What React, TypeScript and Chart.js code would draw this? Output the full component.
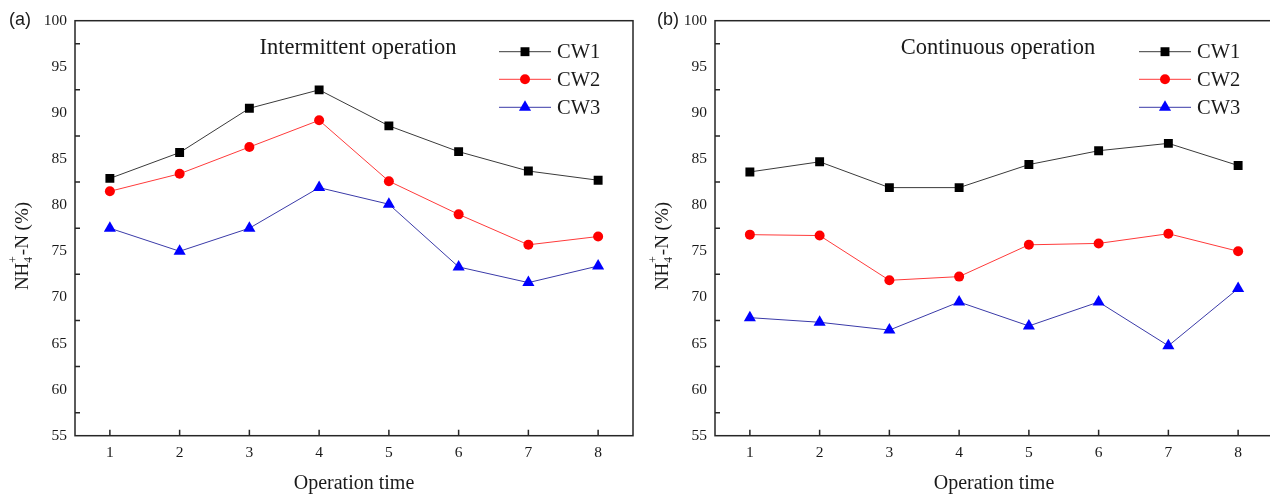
import React, { useEffect, useRef } from 'react';
import { Chart, registerables } from 'chart.js';

Chart.register(...registerables);

// ---------------- data ----------------
const categories = ['1', '2', '3', '4', '5', '6', '7', '8'];
const seriesNames = ['CW1', 'CW2', 'CW3'];

const intermittentCW1 = [82.9, 85.7, 90.5, 92.5, 88.6, 85.8, 83.7, 82.7];
const intermittentCW2 = [81.5, 83.4, 86.3, 89.2, 82.6, 79.0, 75.7, 76.6];
const intermittentCW3 = [77.5, 75.0, 77.5, 81.9, 80.1, 73.3, 71.6, 73.4];

const continuousCW1 = [83.6, 84.7, 81.9, 81.9, 84.4, 85.9, 86.7, 84.3];
const continuousCW2 = [76.8, 76.7, 71.85, 72.25, 75.7, 75.85, 76.9, 75.0];
const continuousCW3 = [67.8, 67.3, 66.45, 69.5, 66.9, 69.5, 64.75, 70.95];

const yMin = 55;
const yMax = 100;
const yStep = 5;
const yMinorTicks = [57.5, 62.5, 67.5, 72.5, 77.5, 82.5, 87.5, 92.5, 97.5];

const xAxisTitle = 'Operation time';

// ---------------- styles ----------------
const SERIF = '"Liberation Serif", "Times New Roman", serif';
const SANS = '"Liberation Sans", Arial, sans-serif';
const markerColors = ['#000000', '#ff0000', '#0000ff'];
const lineColors = ['#3a3a3a', '#ff3a3a', '#3a3aa8'];
const pointStyles = ['rect', 'circle', 'triangle'] as const;
const pointRadii = [6.3, 5, 7];

function drawMarker(ctx: CanvasRenderingContext2D, style: string, x: number, y: number, r: number, color: string) {
  ctx.save();
  ctx.fillStyle = color;
  ctx.beginPath();
  if (style === 'rect') {
    const s = r / Math.SQRT2;
    ctx.rect(x - s, y - s, 2 * s, 2 * s);
  } else if (style === 'circle') {
    ctx.arc(x, y, r, 0, Math.PI * 2);
  } else {
    ctx.moveTo(x, y - r);
    ctx.lineTo(x + r * Math.sin(Math.PI * 2 / 3), y - r * Math.cos(Math.PI * 2 / 3));
    ctx.lineTo(x + r * Math.sin(Math.PI * 4 / 3), y - r * Math.cos(Math.PI * 4 / 3));
    ctx.closePath();
  }
  ctx.fill();
  ctx.restore();
}

const overlayPlugin = {
  id: 'overlay',
  beforeDatasetsDraw(chart: any) {
    const { ctx, chartArea: ca, scales } = chart;
    ctx.save();
    ctx.strokeStyle = '#262626';
    ctx.lineWidth = 1.5;
    ctx.strokeRect(ca.left, ca.top, ca.right - ca.left, ca.bottom - ca.top);
    ctx.beginPath();
    for (const v of yMinorTicks) {
      const y = scales.y.getPixelForValue(v);
      ctx.moveTo(ca.left, y);
      ctx.lineTo(ca.left + 5, y);
    }
    for (let i = 0; i < categories.length; i++) {
      const x = scales.x.getPixelForValue(i);
      ctx.moveTo(x, ca.bottom);
      ctx.lineTo(x, ca.bottom - 6);
    }
    ctx.stroke();
    ctx.restore();
  },
  afterDraw(chart: any, _args: any, opts: any) {
    const { ctx, chartArea: ca } = chart;
    ctx.save();
    ctx.fillStyle = '#1a1a1a';
    // panel letter
    ctx.font = `18px ${SANS}`;
    ctx.textAlign = 'left';
    ctx.textBaseline = 'middle';
    ctx.fillText(opts.letter, opts.letterX, 20);
    // title
    ctx.font = `22.5px ${SERIF}`;
    ctx.textAlign = 'center';
    ctx.fillText(opts.title, ca.left + 283, 48);
    // x axis title
    ctx.font = `20px ${SERIF}`;
    ctx.fillText(xAxisTitle, (ca.left + ca.right) / 2, 484);
    // legend
    const rows = [51.7, 79.3, 107.3];
    chart.data.datasets.forEach((ds: any, i: number) => {
      const y = rows[i];
      ctx.strokeStyle = ds.borderColor;
      ctx.lineWidth = 1;
      ctx.beginPath();
      ctx.moveTo(ca.left + 424, y);
      ctx.lineTo(ca.left + 476, y);
      ctx.stroke();
      drawMarker(ctx, ds.pointStyle, ca.left + 450, y, ds.pointRadius, ds.pointBackgroundColor);
      ctx.fillStyle = '#1a1a1a';
      ctx.font = `20.5px ${SERIF}`;
      ctx.textAlign = 'left';
      ctx.textBaseline = 'middle';
      ctx.fillText(ds.label, ca.left + 482, y + 1);
    });
    // y axis title: NH4+-N (%)
    ctx.translate(ca.left - 47, 246);
    ctx.rotate(-Math.PI / 2);
    ctx.textBaseline = 'alphabetic';
    ctx.textAlign = 'left';
    ctx.fillStyle = '#1a1a1a';
    const big = `19px ${SERIF}`;
    const small = `11.5px ${SERIF}`;
    ctx.font = big;
    const w1 = ctx.measureText('NH').width;
    ctx.font = small;
    const w2 = Math.max(ctx.measureText('4').width, ctx.measureText('+').width);
    ctx.font = big;
    const w3 = ctx.measureText('-N (%)').width;
    const total = w1 + w2 + 1 + w3;
    let x = -total / 2;
    ctx.fillText('NH', x, 0);
    x += w1;
    ctx.font = small;
    ctx.fillText('4', x, 4);
    ctx.fillText('+', x, -11);
    x += w2 + 1;
    ctx.font = big;
    ctx.fillText('-N (%)', x, 0);
    ctx.restore();
  },
};

function buildConfig(series: number[][], letter: string, letterX: number, title: string): any {
  return {
    type: 'line',
    data: {
      labels: categories,
      datasets: series.map((vals, i) => ({
        label: seriesNames[i],
        data: vals,
        borderColor: lineColors[i],
        borderWidth: 1,
        pointStyle: pointStyles[i],
        pointRadius: pointRadii[i],
        pointBackgroundColor: markerColors[i],
        pointBorderColor: markerColors[i],
        pointBorderWidth: 0,
        fill: false,
        tension: 0,
      })),
    },
    options: {
      responsive: false,
      animation: false,
      layout: { padding: { top: 20.7, right: 5, left: 0, bottom: 0 } },
      plugins: {
        legend: { display: false },
        tooltip: { enabled: false },
        overlay: { letter, letterX, title },
      },
      scales: {
        x: {
          type: 'category',
          offset: true,
          grid: { display: false, drawTicks: false },
          border: { display: false },
          ticks: { font: { family: SERIF, size: 15.5 }, color: '#1a1a1a', padding: 8, maxRotation: 0 },
          afterFit: (s: any) => { s.height = 60.3; },
        },
        y: {
          min: yMin,
          max: yMax,
          grid: { display: false, drawTicks: false },
          border: { display: false },
          ticks: { stepSize: yStep, font: { family: SERIF, size: 15.5 }, color: '#1a1a1a', padding: 8 },
          afterFit: (s: any) => { s.width = 75; },
        },
      },
    },
    plugins: [overlayPlugin],
  };
}

function Panel(props: { series: number[][]; letter: string; letterX: number; title: string; left: number }) {
  const ref = useRef<HTMLCanvasElement>(null);
  useEffect(() => {
    if (!ref.current) return;
    const chart = new Chart(ref.current, buildConfig(props.series, props.letter, props.letterX, props.title));
    return () => chart.destroy();
  }, []);
  return (
    <div style={{ position: 'absolute', left: props.left, top: 0, width: 640, height: 496 }}>
      <canvas ref={ref} width={640} height={496} style={{ width: 640, height: 496, display: 'block' }} />
    </div>
  );
}

export default function App() {
  return (
    <div style={{ position: 'fixed', left: 0, top: 0, width: 1270, height: 496, overflow: 'hidden', background: '#fff' }}>
      <Panel series={[intermittentCW1, intermittentCW2, intermittentCW3]} letter="(a)" letterX={9} title="Intermittent operation" left={0} />
      <Panel series={[continuousCW1, continuousCW2, continuousCW3]} letter="(b)" letterX={17} title="Continuous operation" left={640} />
    </div>
  );
}
